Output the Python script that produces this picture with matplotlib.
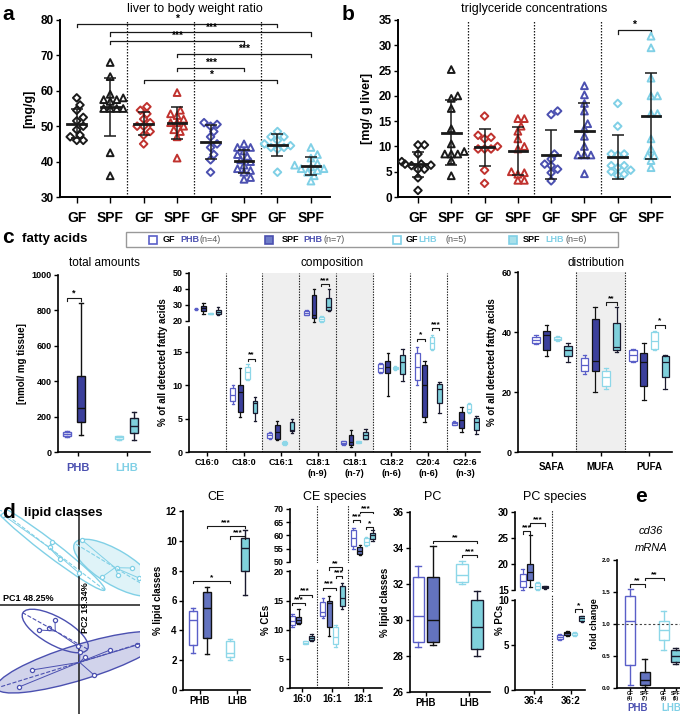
import numpy as np
import matplotlib
matplotlib.use("Agg")
import matplotlib.pyplot as plt
from matplotlib.patches import Rectangle, Ellipse

plt.rcParams['font.family'] = ['Liberation Sans', 'DejaVu Sans']

W, H = 680, 714

# ---------------- data ----------------
# a: liver to body weight ratio [mg/g]
lbw_gf_black = [58, 56, 54.5, 52.5, 51.5, 50, 49, 47.5, 47, 46, 46]
lbw_spf_black = [68, 64, 59, 58, 57.5, 57.5, 57, 55, 55, 55, 55, 42.5, 36]
lbw_gf_red = [55.5, 54.5, 53.5, 52, 51, 50, 50, 48.5, 47.5, 45]
lbw_spf_red = [59.5, 54.5, 53.5, 53, 52, 51, 51, 50, 49, 48.5, 47, 41]
lbw_gf_blue = [51, 50.5, 50, 48.5, 47, 45, 44, 42, 40.5, 37]
lbw_spf_blue = [45, 44, 44, 43, 42, 41.5, 40.5, 40, 39, 38, 37.5, 37, 35.5, 35]
lbw_gf_lblue = [48.5, 47, 47, 46, 45, 44.5, 44, 44, 43.5, 37]
lbw_spf_lblue = [44, 42, 41, 39.5, 39, 38.5, 38, 38, 37.5, 37, 36, 34.5]

# b: triglyceride concentrations [mg/ g liver]
tg_gf_black = [10.3, 10.3, 8.5, 7, 6.5, 6.3, 6.2, 6.5, 5.5, 3.8, 1.3, 5.5]
tg_spf_black = [25.2, 20, 19.5, 17.5, 13.5, 10.5, 9, 8.5, 8.5, 8.5, 7.2, 4.2]
tg_gf_red = [16, 12.2, 11.8, 11.5, 10, 9.5, 9.5, 9.5, 5.3, 2.7]
tg_spf_red = [15.5, 15.5, 14, 13, 11.5, 10, 9.5, 5.0, 4.8, 4.5, 3.3, 3.3]
tg_gf_blue = [17, 16.3, 8.5, 7.5, 6.5, 6.2, 5.5, 4.8, 3.2]
tg_spf_blue = [22, 20.2, 18.5, 17, 14.5, 13.5, 12, 10, 8.3, 8.3, 8.3, 4.6]
tg_gf_lblue = [18.5, 14, 8.5, 8.3, 8.5, 6.2, 6.2, 5.8, 5.3, 5.0, 4.5, 4.3]
tg_spf_lblue = [31.8, 29.5, 23.5, 20, 20, 16.5, 16.5, 11.5, 9.5, 8.2, 8.2, 7.2, 5.8]

ab_ticklabels = ['GF', 'SPF', 'GF', 'SPF', 'GF', 'SPF', 'GF', 'SPF']

# box statistics: [whisker low, q1, median, q3, whisker high]
tot_gf_phb = [85, 90, 100, 115, 120]
tot_spf_phb = [95, 170, 250, 430, 840]
tot_gf_lhb = [70, 75, 82, 88, 92]
tot_spf_lhb = [65, 110, 145, 190, 225]

comp_labels = ['C16:0', 'C18:0', 'C16:1', 'C18:1\n(n-9)', 'C18:1\n(n-7)',
               'C18:2\n(n-6)', 'C20:4\n(n-6)', 'C22:6\n(n-3)']
comp_gf_phb = [[27, 27.2, 27.5, 27.8, 28], [7.2, 7.6, 8.6, 9.6, 10.0],
               [2.0, 2.1, 2.5, 2.9, 3.0], [23.5, 24, 25, 26.5, 27],
               [1.1, 1.2, 1.4, 1.6, 1.7], [11.8, 12.0, 12.6, 13.2, 13.4],
               [10, 10.8, 12.7, 14.8, 15.7], [4.0, 4.1, 4.3, 4.5, 4.6]]
comp_spf_phb = [[24.5, 26, 28, 29.5, 31], [5.2, 6.0, 9.0, 10.0, 12.6],
                [1.8, 2.0, 3.0, 4.0, 4.6], [19.5, 22, 24, 36, 40],
                [0.8, 1.0, 1.5, 2.5, 3.3], [8.4, 11.8, 12.8, 13.7, 14.9],
                [4.5, 5.2, 10.0, 13.0, 13.7], [3.0, 3.6, 4.8, 6.0, 6.8]]
comp_gf_lhb = [[24.2, 24.3, 24.5, 24.7, 24.8], [10.8, 11.0, 12.0, 12.7, 13.2],
               [1.1, 1.2, 1.35, 1.5, 1.6], [19.5, 19.8, 21, 22.5, 23],
               [1.3, 1.4, 1.5, 1.6, 1.7], [12.3, 12.4, 12.6, 12.8, 12.9],
               [15.3, 15.5, 16.3, 17.2, 17.6], [5.8, 6.0, 6.5, 7.2, 7.4]]
comp_spf_lhb = [[23.5, 24.5, 25.5, 27, 28.5], [4.7, 5.8, 7.3, 7.6, 8.3],
                [2.8, 3.1, 3.3, 4.5, 5.0], [26, 27, 29, 34.5, 40],
                [1.9, 2.0, 2.6, 3.0, 3.5], [10.6, 11.7, 13.5, 14.5, 15.5],
                [5.8, 7.4, 9.5, 10.2, 10.5], [2.7, 3.3, 4.5, 5.1, 5.4]]

dist_labels = ['SAFA', 'MUFA', 'PUFA']
dist_gf_phb = [[36, 36.5, 37.5, 38.5, 39], [26, 27, 29, 31.5, 32.5], [30, 30.5, 32.5, 34, 34.5]]
dist_spf_phb = [[32, 34, 39, 40.5, 42.5], [20, 27, 30.5, 44.5, 48.5], [17.5, 22, 30, 33, 36.5]]
dist_gf_lhb = [[37, 37.3, 37.8, 38.3, 38.6], [21, 22, 25, 27, 28], [34, 34.5, 37, 40, 40.5]]
dist_spf_lhb = [[30, 32, 34, 35.5, 36.5], [33.5, 34, 35, 43, 48.5], [21, 25, 30, 32, 32.5]]

# d: PCA scores (PC1, PC2)
pca_gf_lhb = [(-76, 90), (-27, 63), (-29, 58), (-19, 46), (0, 32)]
pca_spf_lhb = [(3, 65), (23, 28), (38, 37), (39, 30), (53, 37), (60, 27)]
pca_gf_phb = [(-40, -25), (-24, -15), (-30, -23), (-1, -41)]
pca_spf_phb = [(-60, -82), (-47, -65), (1, -47), (6, -52), (31, -45), (58, -40), (15, -70)]

ce_gf_phb = [2.5, 3.0, 4.7, 5.3, 5.5]
ce_spf_phb = [2.4, 3.5, 5.5, 6.6, 6.9]
ce_gf_lhb = [2.0, 2.2, 2.5, 3.3, 3.4]
ce_spf_lhb = [6.4, 8.0, 9.5, 10.2, 10.7]

ces_labels = ['16:0', '16:1', '18:1']
ces_gf_phb = [[10.5, 10.8, 11.5, 12.3, 12.7], [12.0, 12.3, 13.0, 14.8, 15.5], [55, 56, 59, 62, 63]]
ces_spf_phb = [[11.0, 11.2, 11.7, 12.2, 13.5], [9.0, 10.5, 14.5, 15.0, 15.7], [52.5, 53, 54, 55.8, 56.5]]
ces_gf_lhb = [[7.5, 7.6, 7.8, 8.0, 8.1], [7.0, 7.5, 8.8, 10.5, 10.8], [56.2, 56.5, 57.5, 59, 59.3]]
ces_spf_lhb = [[8.0, 8.2, 8.6, 9.0, 9.3], [13.5, 14.0, 15.5, 17.5, 18.0], [58, 58.5, 60, 61, 62]]

pc_gf_phb = [28.5, 28.8, 30.2, 32.4, 33.0]
pc_spf_phb = [28.6, 28.8, 30.0, 32.4, 34.1]
pc_gf_lhb = [32.0, 32.1, 32.5, 33.1, 33.3]
pc_spf_lhb = [28.0, 28.4, 29.6, 31.1, 31.6]

pcs_labels = ['36:4', '36:2']
pcs_gf_phb = [[15, 15.5, 16.8, 18, 19], [5.6, 5.7, 5.9, 6.1, 6.2]]
pcs_spf_phb = [[15.5, 17, 18.5, 20, 25.5], [6.0, 6.1, 6.3, 6.5, 6.6]]
pcs_gf_lhb = [[15, 15.2, 15.7, 16.3, 16.6], [6.0, 6.1, 6.3, 6.4, 6.5]]
pcs_spf_lhb = [[15.2, 15.3, 15.5, 15.7, 15.8], [7.6, 7.7, 8.0, 8.2, 8.3]]

e_gf_phb = [0.05, 0.36, 1.05, 1.44, 1.55]
e_spf_phb = [0.02, 0.05, 0.12, 0.25, 0.45]
e_gf_lhb = [0.6, 0.75, 0.9, 1.05, 1.2]
e_spf_lhb = [0.38, 0.4, 0.5, 0.6, 0.62]

# ---------------- styles ----------------
BLACK = '#1a1a1a'
RED = '#c0322e'
BLUE = '#4b50b0'
LBLUE = '#80d0e6'
GRAY_BG = '#efefef'

BOX_STYLES = [dict(face='white', edge='#5a5fc8'),
              dict(face='#3b3f9b', edge='#111111'),
              dict(face='white', edge='#8dd7e8'),
              dict(face='#7fd0dc', edge='#1a1a2e')]

fig = plt.figure(figsize=(W / 100, H / 100), dpi=100)


def pax(x0, y0, x1, y1):
    return fig.add_axes([x0 / W, 1 - y1 / H, (x1 - x0) / W, (y1 - y0) / H])


def ftext(x, y, s, **kw):
    fig.text(x / W, 1 - y / H, s, **kw)


def style(ax, fs=6.5, lw=1.2):
    for side in ['top', 'right']:
        ax.spines[side].set_visible(False)
    for side in ['left', 'bottom']:
        ax.spines[side].set_linewidth(lw)
    ax.tick_params(direction='out', length=3, width=1, labelsize=fs, pad=1.5)
    for lab in ax.get_xticklabels() + ax.get_yticklabels():
        lab.set_fontweight('bold')
    ax.patch.set_alpha(0)


def swarm(vals, xpx, ypx, d):
    vals = np.asarray(vals, float)
    offs = np.zeros(len(vals))
    placed = []
    for k in np.argsort(vals):
        y = vals[k] * ypx
        x = 0.0
        for step in [0, 1, -1, 2, -2, 3, -3, 4, -4, 5, -5]:
            x = step * d * 0.5
            if all((x - a) ** 2 + (y - b) ** 2 >= d * d * 0.7 for a, b in placed):
                break
        placed.append((x, y))
        offs[k] = x / xpx
    return offs


def bracket(ax, x1, x2, y, txt, h, fs=6, lw=0.8):
    ax.plot([x1, x1, x2, x2], [y - h, y, y, y - h], color=BLACK, lw=lw, clip_on=False)
    ax.text((x1 + x2) / 2, y, txt, ha='center', va='bottom', fontsize=fs,
            fontweight='bold', clip_on=False)


def boxes(ax, stats, pos, st, width, lw=1.0):
    bs = [dict(whislo=s[0], q1=s[1], med=s[2], q3=s[3], whishi=s[4], fliers=[])
          for s in stats]
    ax.bxp(bs, positions=pos, widths=width, patch_artist=True, showfliers=False,
           manage_ticks=False,
           boxprops=dict(facecolor=st['face'], edgecolor=st['edge'], linewidth=lw),
           medianprops=dict(color=st['edge'], linewidth=lw),
           whiskerprops=dict(color=st['edge'], linewidth=lw),
           capprops=dict(color=st['edge'], linewidth=lw))


def dot_panel(ax, groups, ypx):
    cols = [BLACK, BLACK, RED, RED, BLUE, BLUE, LBLUE, LBLUE]
    for i, vals in enumerate(groups):
        mk = 'D' if i % 2 == 0 else '^'
        offs = swarm(vals, 33.4, ypx, 6.5)
        ax.scatter(i + offs, vals, marker=mk, s=15 if mk == 'D' else 24,
                   facecolors='none', edgecolors=cols[i], linewidths=1.4, zorder=3)
        m = np.mean(vals)
        sd = np.std(vals, ddof=1)
        ax.plot([i - 0.28, i + 0.28], [m, m], color=BLACK, lw=2, zorder=4)
        ax.errorbar(i, m, yerr=sd, color=BLACK, capsize=4, lw=1.1, capthick=1.1, zorder=4)
    for s in [1.5, 3.5, 5.5]:
        ax.axvline(s, color=BLACK, lw=0.9, ls=(0, (1.2, 1.2)))
    ax.set_xticks(range(8))
    ax.set_xticklabels(ab_ticklabels)
    style(ax, fs=8.5, lw=1.4)
    ax.tick_params(axis='x', labelsize=10, pad=6, length=4)


# ---------------- panel a ----------------
ax = pax(60, 20, 330, 197)
dot_panel(ax, [lbw_gf_black, lbw_spf_black, lbw_gf_red, lbw_spf_red,
               lbw_gf_blue, lbw_spf_blue, lbw_gf_lblue, lbw_spf_lblue], 177 / 50)
ax.set_xlim(-0.5, 7.57)
ax.set_ylim(30, 80)
ax.set_yticks([30, 40, 50, 60, 70, 80])
ax.set_ylabel('[mg/g]', fontsize=9, fontweight='bold', labelpad=4)
for x1, x2, y, t in [(0, 6, 79, '*'), (1, 7, 76.5, '***'), (1, 5, 74, '***'),
                     (3, 7, 70.5, '***'), (3, 5, 66.5, '***'), (2, 6, 63, '*')]:
    bracket(ax, x1, x2, y, t, 0.9, fs=7.5, lw=0.9)
ax.set_title('liver to body weight ratio', fontsize=9, pad=6)
ftext(2, 14, 'a', fontsize=15, fontweight='bold', va='center')

# ---------------- panel b ----------------
ax = pax(398, 20, 670, 197)
dot_panel(ax, [tg_gf_black, tg_spf_black, tg_gf_red, tg_spf_red,
               tg_gf_blue, tg_spf_blue, tg_gf_lblue, tg_spf_lblue], 177 / 35)
ax.set_xlim(-0.6, 7.57)
ax.set_ylim(0, 35)
ax.set_yticks(range(0, 36, 5))
ax.set_ylabel('[mg/ g liver]', fontsize=9, fontweight='bold', labelpad=4)
bracket(ax, 6, 7, 33, '*', 0.7, fs=7.5, lw=0.9)
ax.set_title('triglyceride concentrations', fontsize=9, pad=6)
ftext(342, 14, 'b', fontsize=15, fontweight='bold', va='center')

# ---------------- panel c header + legend ----------------
ftext(2, 238, 'c', fontsize=15, fontweight='bold', va='center')
ftext(22, 239, 'fatty acids', fontsize=9.5, fontweight='bold', va='center')
fig.patches.append(Rectangle((126 / W, 1 - 247 / H), 492 / W, 15 / H, transform=fig.transFigure,
                             facecolor='white', edgecolor='#999999', lw=1.0))
leg = [(149, 163, 180, 200, 'GF', 'PHB', '(n=4)', 'white', '#5a5fc8', BLUE),
       (265, 282, 303, 324, 'SPF', 'PHB', '(n=7)', '#6f7dc8', '#4b50b0', BLUE),
       (393, 406, 418, 446, 'GF', 'LHB', '(n=5)', 'white', LBLUE, LBLUE),
       (509, 523, 545, 565, 'SPF', 'LHB', '(n=6)', '#a8e0ea', LBLUE, LBLUE)]
for xs, xg, xh, xn, g, h, n, fc, ec, tc in leg:
    fig.patches.append(Rectangle((xs / W, 1 - 244 / H), 8 / W, 8 / H, transform=fig.transFigure,
                                 facecolor=fc, edgecolor=ec, lw=1.2))
    ftext(xg, 240, g, fontsize=6.5, fontweight='bold', va='center')
    ftext(xh, 240, h, fontsize=6.5, fontweight='bold', color=tc, va='center')
    ftext(xn, 240, n, fontsize=6.5, color='#555555', va='center')

off4 = np.array([-0.3, -0.1, 0.1, 0.3])
c_series = [comp_gf_phb, comp_spf_phb, comp_gf_lhb, comp_spf_lhb]

# total amounts
ax = pax(58, 275, 150, 452)
for k, (s, p) in enumerate(zip([tot_gf_phb, tot_spf_phb, tot_gf_lhb, tot_spf_lhb],
                               [0.78, 1.06, 1.84, 2.14])):
    boxes(ax, [s], [p], BOX_STYLES[k], 0.17)
ax.set_xlim(0.59, 2.47)
ax.set_ylim(0, 1000)
ax.set_yticks(range(0, 1001, 200))
ax.set_xticks([1, 2])
ax.set_xticklabels(['PHB', 'LHB'])
style(ax)
ax.tick_params(axis='x', labelsize=8, pad=5)
ax.get_xticklabels()[0].set_color(BLUE)
ax.get_xticklabels()[1].set_color(LBLUE)
ax.set_ylabel('[nmol/ mg tissue]', fontsize=7, fontweight='bold', labelpad=3)
bracket(ax, 0.78, 1.06, 870, '*', 15, fs=6.5)
ftext(104, 263, 'total amounts', fontsize=8.5, ha='center', va='center')

# composition (broken y axis)
axu = pax(189, 273, 480, 327)
axl = pax(189, 327, 480, 452)
for a in (axu, axl):
    a.axvspan(1.5, 4.5, color=GRAY_BG, zorder=0, lw=0)
    for s in np.arange(0.5, 7, 1):
        a.axvline(s, color=BLACK, lw=0.8, ls=(0, (1.2, 1.2)), zorder=1)
    a.set_xlim(-0.49, 7.4)
for gi in range(8):
    a = axu if gi in (0, 3) else axl
    for k in range(4):
        boxes(a, [c_series[k][gi]], [gi + off4[k]], BOX_STYLES[k], 0.13, lw=0.9)
axu.set_ylim(16.25, 50)
axu.set_yticks([20, 30, 40, 50])
axu.spines['left'].set_bounds(20, 50)
axl.set_ylim(0, 18.75)
axl.set_yticks([0, 5, 10, 15])
axl.set_xticks(range(8))
axl.set_xticklabels(comp_labels)
style(axu)
style(axl)
axu.spines['bottom'].set_visible(False)
axu.set_xticks([])
axl.tick_params(axis='x', labelsize=6.5)
bracket(axl, 1.1, 1.3, 14.0, '**', 0.3)
bracket(axu, 3.1, 3.3, 43, '***', 1.0)
bracket(axl, 5.7, 5.9, 17.0, '*', 0.3)
bracket(axl, 6.1, 6.3, 18.6, '***', 0.3)
ftext(163, 362, '% of all detected fatty acids', fontsize=7, fontweight='bold',
      rotation=90, ha='center', va='center')
ftext(332, 263, 'composition', fontsize=8.5, ha='center', va='center')

# distribution
ax = pax(518, 272, 672, 452)
ax.axvspan(0.5, 1.5, color=GRAY_BG, zorder=0, lw=0)
for s in [0.5, 1.5]:
    ax.axvline(s, color=BLACK, lw=0.8, ls=(0, (1.2, 1.2)), zorder=1)
d_series = [dist_gf_phb, dist_spf_phb, dist_gf_lhb, dist_spf_lhb]
for k in range(4):
    boxes(ax, d_series[k], np.arange(3) + off4[k] * 1.1, BOX_STYLES[k], 0.15, lw=0.9)
ax.set_xlim(-0.7, 2.47)
ax.set_ylim(0, 60)
ax.set_yticks([0, 20, 40, 60])
ax.set_xticks(range(3))
ax.set_xticklabels(dist_labels)
style(ax)
ax.tick_params(axis='x', labelsize=7, pad=4)
bracket(ax, 1.11, 1.33, 50, '**', 1.0)
bracket(ax, 2.11, 2.33, 42.5, '*', 1.0)
ax.set_ylabel('% of all detected fatty acids', fontsize=7, fontweight='bold', labelpad=3)
ftext(596, 263, 'distribution', fontsize=8.5, ha='center', va='center')

# ---------------- panel d ----------------
ftext(2, 512, 'd', fontsize=15, fontweight='bold', va='center')
ftext(24, 513, 'lipid classes', fontsize=9.5, fontweight='bold', va='center')

ax = pax(0, 510, 140, 714)
ax.set_xlim(-79, 61)
ax.set_ylim(-109, 95)
ax.axis('off')
ax.axhline(0, color=BLACK, lw=1.1)
ax.axvline(0, color=BLACK, lw=1.1)
for pts, col, filled in [(pca_gf_lhb, LBLUE, False), (pca_spf_lhb, LBLUE, True),
                         (pca_gf_phb, BLUE, False), (pca_spf_phb, BLUE, True)]:
    P = np.array(pts, float)
    c = P.mean(axis=0)
    ev, vec = np.linalg.eigh(np.cov(P.T))
    ang = np.degrees(np.arctan2(vec[1, -1], vec[0, -1]))
    kk = 2.0
    ell = Ellipse(c, 2 * kk * np.sqrt(ev[-1]), 2 * kk * np.sqrt(max(ev[0], 6)), angle=ang,
                  facecolor='none', edgecolor=col, lw=1.0)
    if filled:
        ell.set_facecolor(matplotlib.colors.to_rgba(col, 0.25))
    ax.add_patch(ell)
    for p in P:
        ax.plot([c[0], p[0]], [c[1], p[1]], color=col, lw=0.7)
    ax.plot(P[:, 0], P[:, 1], 'o', ms=3, mfc='white', mec=col, mew=0.9)
    v = vec[:, -1] * kk * np.sqrt(ev[-1])
    ax.plot([c[0] - v[0], c[0] + v[0]], [c[1] - v[1], c[1] + v[1]], color=col, lw=0.8, ls='--')
ax.text(-76, 2, 'PC1 48.25%', fontsize=6.5, fontweight='bold', va='bottom')
ax.text(6, -3, 'PC2 19.34%', fontsize=6.5, fontweight='bold', rotation=90,
        ha='center', va='center')

D_STYLES = [BOX_STYLES[0], dict(face='#6373bf', edge='#111111'), BOX_STYLES[2], BOX_STYLES[3]]

# CE
ax = pax(183, 511, 250, 690)
for k, (s, p) in enumerate(zip([ce_gf_phb, ce_spf_phb, ce_gf_lhb, ce_spf_lhb],
                               [0.81, 1.19, 1.81, 2.22])):
    boxes(ax, [s], [p], D_STYLES[k], 0.22)
ax.set_xlim(0.54, 2.35)
ax.set_ylim(0, 12)
ax.set_yticks(range(0, 13, 2))
ax.set_xticks([1, 2])
ax.set_xticklabels(['PHB', 'LHB'])
style(ax, fs=7)
ax.set_ylabel('% lipid classes', fontsize=7, fontweight='bold', labelpad=2)
bracket(ax, 0.81, 1.81, 7.3, '*', 0.15)
bracket(ax, 1.19, 2.22, 11.0, '***', 0.15)
bracket(ax, 1.81, 2.22, 10.3, '***', 0.15)
ftext(216, 497, 'CE', fontsize=9, ha='center', va='center')

# CE species (broken y axis)
axu = pax(290, 505, 382, 563)
axl = pax(290, 569, 382, 688)
for a in (axu, axl):
    for s in [0.5, 1.5]:
        a.axvline(s, color=BLACK, lw=0.8, ls=(0, (1.2, 1.2)), zorder=1)
    a.set_xlim(-0.39, 2.62)
cs_series = [ces_gf_phb, ces_spf_phb, ces_gf_lhb, ces_spf_lhb]
for gi in range(3):
    a = axu if gi == 2 else axl
    for k in range(4):
        boxes(a, [cs_series[k][gi]], [gi + off4[k] * 1.05], D_STYLES[k], 0.16, lw=0.9)
axu.set_ylim(49.6, 71.5)
axu.set_yticks([50, 55, 60, 65, 70])
axu.spines['left'].set_bounds(50, 70)
axl.set_ylim(0, 20.4)
axl.set_yticks([0, 5, 10, 15, 20])
axl.spines['left'].set_bounds(0, 20)
axl.set_xticks(range(3))
axl.set_xticklabels(ces_labels)
style(axu, fs=6.5)
style(axl, fs=6.5)
axl.tick_params(axis='x', labelsize=7)
axu.spines['bottom'].set_visible(False)
axu.set_xticks([])
bracket(axl, -0.315, 0.105, 14.6, '***', 0.4)
bracket(axl, -0.105, 0.315, 16.0, '***', 0.4)
bracket(axl, 0.685, 1.105, 17.2, '***', 0.4)
bracket(axl, 1.105, 1.315, 19.2, '***', 0.4)
bracket(axl, 0.895, 1.315, 20.7, '**', 0.4)
bracket(axu, 1.685, 1.895, 65.8, '***', 0.6)
bracket(axu, 1.895, 2.315, 68.9, '***', 0.6)
bracket(axu, 2.105, 2.315, 63.2, '*', 0.6)
ftext(266, 620, '% CEs', fontsize=7, fontweight='bold', rotation=90, ha='center', va='center')
ftext(335, 497, 'CE species', fontsize=9, ha='center', va='center')

# PC
ax = pax(410, 512, 490, 692)
for k, (s, p) in enumerate(zip([pc_gf_phb, pc_spf_phb, pc_gf_lhb, pc_spf_lhb],
                               [0.76, 1.1, 1.76, 2.1])):
    boxes(ax, [s], [p], D_STYLES[k], 0.26)
ax.set_xlim(0.57, 2.4)
ax.set_ylim(26, 36)
ax.set_yticks(range(26, 37, 2))
ax.set_xticks([0.93, 1.93])
ax.set_xticklabels(['PHB', 'LHB'])
style(ax, fs=7)
ax.set_ylabel('% lipid classes', fontsize=7, fontweight='bold', labelpad=2)
bracket(ax, 1.1, 2.1, 34.4, '**', 0.12)
bracket(ax, 1.76, 2.1, 33.6, '***', 0.12)
ftext(433, 497, 'PC', fontsize=9, ha='center', va='center')

# PC species (broken y axis)
axu = pax(515, 510, 585, 592)
axl = pax(515, 594, 585, 690)
for a in (axu, axl):
    a.axvline(0.5, color=BLACK, lw=0.8, ls=(0, (1.2, 1.2)), zorder=1)
    a.set_xlim(-0.51, 1.38)
ps_series = [pcs_gf_phb, pcs_spf_phb, pcs_gf_lhb, pcs_spf_lhb]
for gi in range(2):
    a = axu if gi == 0 else axl
    for k in range(4):
        boxes(a, [ps_series[k][gi]], [gi + off4[k]], D_STYLES[k], 0.15, lw=0.9)
axu.set_ylim(14.6, 30.4)
axu.set_yticks([15, 20, 25, 30])
axu.spines['left'].set_bounds(15, 30)
axl.set_ylim(0, 10.7)
axl.set_yticks([0, 5, 10])
axl.spines['left'].set_bounds(0, 10)
axl.set_xticks(range(2))
axl.set_xticklabels(pcs_labels)
style(axu, fs=7)
style(axl, fs=7)
axu.spines['bottom'].set_visible(False)
axu.set_xticks([])
bracket(axu, -0.3, -0.1, 26.3, '***', 0.5)
bracket(axu, -0.1, 0.3, 27.8, '***', 0.5)
bracket(axl, 1.1, 1.3, 9.0, '*', 0.3)
ftext(500, 620, '% PCs', fontsize=7, fontweight='bold', rotation=90, ha='center', va='center')
ftext(555, 497, 'PC species', fontsize=9, ha='center', va='center')

# ---------------- panel e ----------------
ftext(641, 497, 'e', fontsize=15, fontweight='bold', ha='center', va='center')
ftext(651, 531, 'cd36', fontsize=8, style='italic', ha='center', va='center')
ftext(651, 548, 'mRNA', fontsize=8, style='italic', ha='center', va='center')
ax = pax(617, 560, 682, 688)
for k, (s, p) in enumerate(zip([e_gf_phb, e_spf_phb, e_gf_lhb, e_spf_lhb],
                               [0.78, 1.22, 1.78, 2.15])):
    boxes(ax, [s], [p], BOX_STYLES[k] if k != 1 else D_STYLES[1], 0.3)
ax.axhline(1.0, color='#444444', lw=0.8, ls=(0, (2, 2)))
ax.set_xlim(0.39, 2.33)
ax.set_ylim(0, 2.0)
ax.set_yticks([0, 0.5, 1.0, 1.5, 2.0])
ax.set_yticklabels(['0.0', '0.5', '1.0', '1.5', '2.0'])
ax.set_xticks([0.78, 1.22, 1.78, 2.15])
ax.set_xticklabels(['GF\n(4)', 'SPF\n(7)', 'GF\n(4)', 'SPF\n(6)'])
style(ax, fs=4.5)
ax.tick_params(axis='x', labelsize=3.5, pad=0.5, length=2)
for lab in ax.get_xticklabels():
    lab.set_linespacing(0.9)
ax.set_ylabel('fold change', fontsize=6.5, fontweight='bold', labelpad=2)
bracket(ax, 0.78, 1.22, 1.62, '**', 0.04)
bracket(ax, 1.22, 1.78, 1.72, '**', 0.04)
ftext(638, 708, 'PHB', fontsize=7, fontweight='bold', color=BLUE, ha='center', va='center')
ftext(671, 708, 'LHB', fontsize=7, fontweight='bold', color=LBLUE, ha='center', va='center')

fig.savefig('out.png', dpi=100)
